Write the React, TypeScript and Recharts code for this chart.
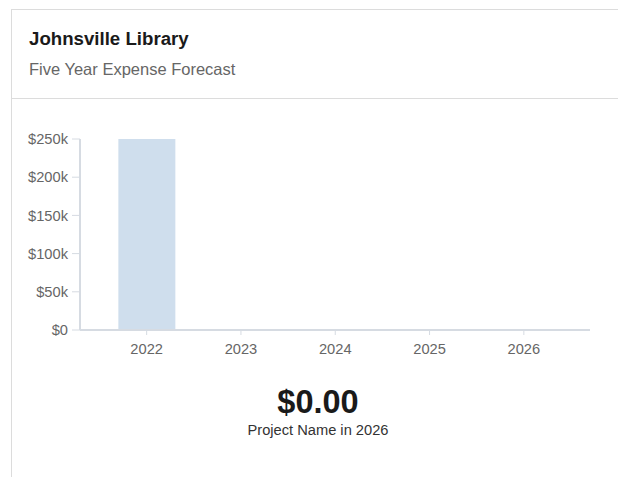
import React from 'react';
import { BarChart, Bar, XAxis, YAxis } from 'recharts';

const years = ['2022', '2023', '2024', '2025', '2026'];
const expenses = [250000, 0, 0, 0, 0];
const yTicks = [0, 50000, 100000, 150000, 200000, 250000];

const title = 'Johnsville Library';
const subtitle = 'Five Year Expense Forecast';
const totalLabel = '$0.00';
const totalCaption = 'Project Name in 2026';

const chartData = years.map((year, i) => ({ year, expense: expenses[i] }));

const font = '"Liberation Sans", Arial, Helvetica, sans-serif';
const axisColor = '#d6dbe2';
const tickFont = { fill: '#666', fontSize: 14.67, fontFamily: font };

const formatMoney = (v: number) => (v === 0 ? '$0' : `$${v / 1000}k`);

export default function App() {
  // fixed to the window so the card can run off the right and bottom edges
  return (
    <div style={{ position: 'fixed', left: 0, top: 0, width: 618, height: 477, fontFamily: font, background: '#fff' }}>
      <div
        style={{
          position: 'absolute',
          left: 11,
          top: 9,
          width: 620,
          height: 480,
          borderTop: '1px solid #dcdcdc',
          borderLeft: '1px solid #dcdcdc',
          boxSizing: 'border-box',
        }}
      />
      {/* header divider */}
      <div
        style={{
          position: 'absolute',
          left: 11,
          top: 98,
          width: 620,
          height: 0,
          borderTop: '1px solid #dcdcdc',
        }}
      />
      <div
        style={{
          position: 'absolute',
          left: 29,
          top: 27.5,
          fontSize: 18.67,
          lineHeight: '22px',
          fontWeight: 'bold',
          color: '#1a1a1a',
          whiteSpace: 'nowrap',
        }}
      >
        {title}
      </div>
      <div
        style={{
          position: 'absolute',
          left: 29,
          top: 59.3,
          fontSize: 16.5,
          lineHeight: '20px',
          color: '#666',
          whiteSpace: 'nowrap',
        }}
      >
        {subtitle}
      </div>

      <div style={{ position: 'absolute', left: 12, top: 99 }}>
        <BarChart
          width={606}
          height={270}
          data={chartData}
          margin={{ top: 40, right: 28, left: 8, bottom: 9 }}
          barCategoryGap="20%"
        >
          <XAxis
            dataKey="year"
            height={30}
            padding={{ left: 19.5, right: 19 }}
            axisLine={{ stroke: axisColor, strokeWidth: 2 }}
            tickLine={{ stroke: axisColor }}
            tickSize={5}
            tickMargin={9}
            tick={tickFont}
          />
          <YAxis
            width={60}
            domain={[0, 250000]}
            ticks={yTicks}
            tickFormatter={formatMoney}
            axisLine={{ stroke: axisColor, strokeWidth: 2 }}
            tickLine={{ stroke: axisColor }}
            tickSize={8}
            tickMargin={4}
            tick={tickFont}
          />
          <Bar dataKey="expense" fill="#cfdeed" isAnimationActive={false} />
        </BarChart>
      </div>

      <div
        style={{
          position: 'absolute',
          left: 18,
          top: 384,
          width: 600,
          textAlign: 'center',
          fontSize: 32.5,
          lineHeight: '36px',
          fontWeight: 'bold',
          color: '#1a1a1a',
        }}
      >
        {totalLabel}
      </div>
      <div
        style={{
          position: 'absolute',
          left: 18,
          top: 420.9,
          width: 600,
          textAlign: 'center',
          fontSize: 14.67,
          lineHeight: '18px',
          color: '#333',
        }}
      >
        {totalCaption}
      </div>
    </div>
  );
}
